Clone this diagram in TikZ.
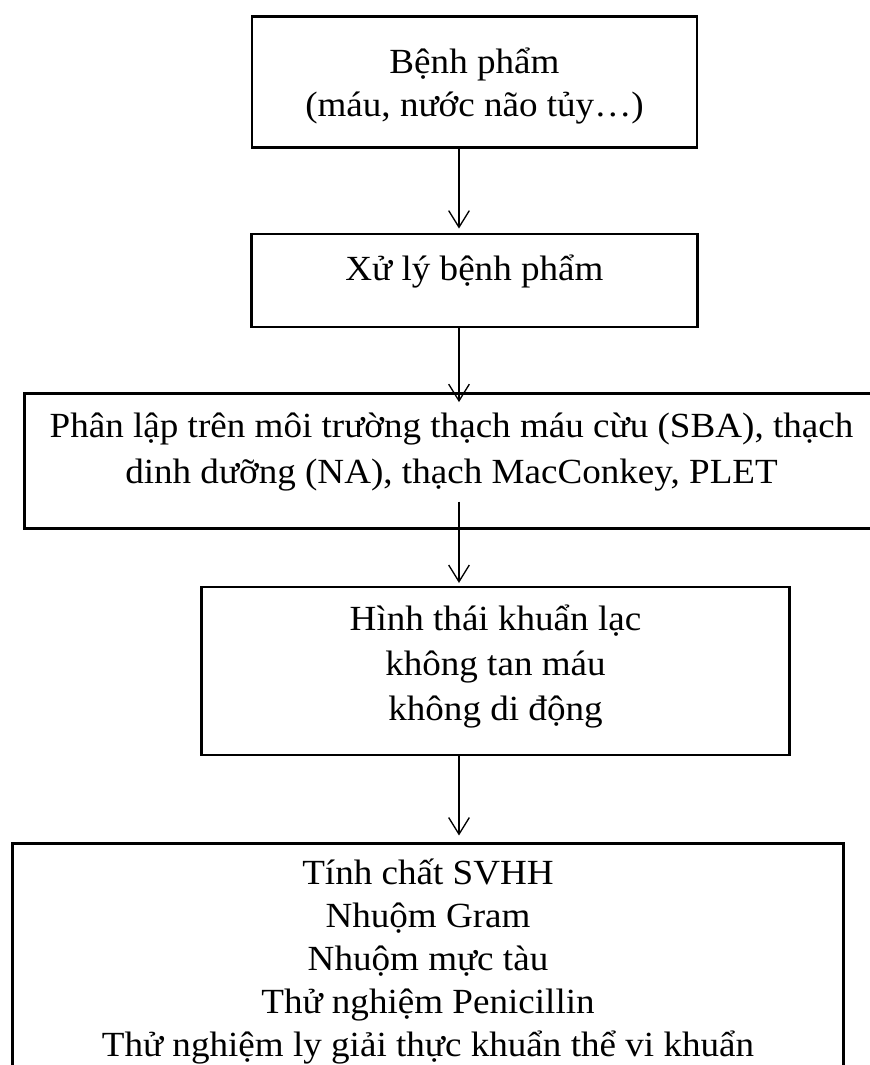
\documentclass[tikz,border=0pt]{standalone}
\usepackage{fontspec}
\setmainfont{Liberation Serif}[FakeStretch=1.05]
\usetikzlibrary{arrows.meta, positioning}

\begin{document}
\begin{tikzpicture}[
  x=0.75pt,
  y=-0.75pt,
  box/.style={
    rectangle,
    draw,
    line width=1.9pt,
    align=center,
    inner sep=0pt,
    font=\fontsize{26.5}{32.25}\selectfont
  },
  arrow/.style={
    -{Straight Barb[length=12.5pt, width=15.5pt]},
    line width=1pt
  }
]
\useasboundingbox (0,0) rectangle (869,1065);

% Main vertical chain
\node[box, anchor=north, minimum width=333.75pt, text height=75pt, text depth=23.25pt] (benh) at (474.5,15) {Bệnh phẩm\\(máu, nước não tủy…)};

\node[box, below=63pt of benh, minimum width=334.5pt, text height=35.25pt, text depth=34.5pt] (xuly) {Xử lý bệnh phẩm};

\node[box, below=48pt of xuly, xshift=-17.25pt, minimum width=640.5pt, text height=67.5pt, text depth=33.75pt] (phanlap) {Phân lập trên môi trường thạch máu cừu (SBA), thạch\\[2.25pt]dinh dưỡng (NA), thạch MacConkey, PLET};

\node[box, below=42pt of phanlap, xshift=33pt, minimum width=441pt, text height=100.5pt, text depth=25.5pt] (hinhthai) {Hình thái khuẩn lạc\\[1.5pt]không tan máu\\[1.5pt]không di động};

\node[box, below=64.5pt of hinhthai, xshift=-50.6pt, minimum width=623.25pt, text height=160pt, text depth=23pt] (tinhchat) {Tính chất SVHH\\Nhuộm Gram\\Nhuộm mực tàu\\Thử nghiệm Penicillin\\Thử nghiệm ly giải thực khuẩn thể vi khuẩn};

% Arrows along one axis
\coordinate (truc) at (459,0);
\draw[arrow, shorten >=3pt] (benh.south -| truc) -- (xuly.north -| truc);
\draw[arrow, shorten >=-7.5pt] (xuly.south -| truc) -- (phanlap.north -| truc);
\draw[arrow, shorten <=-21pt, shorten >=2pt] (phanlap.south -| truc) -- (hinhthai.north -| truc);
\draw[arrow, shorten >=5pt] (hinhthai.south -| truc) -- (tinhchat.north -| truc);

\end{tikzpicture}
\end{document}
